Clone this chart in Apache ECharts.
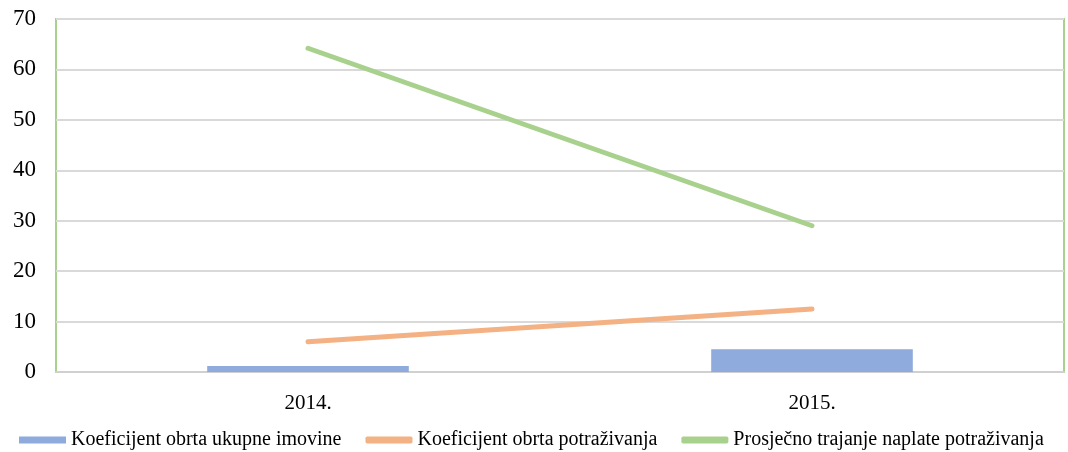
<!DOCTYPE html>
<html>
<head>
<meta charset="utf-8">
<script src="https://cdn.jsdelivr.net/npm/echarts@6/dist/echarts.min.js"></script>
<style>
  html, body { margin: 0; padding: 0; background: #fff; }
  #chart { width: 1068px; height: 452px; }
</style>
</head>
<body>
<div id="chart"></div>
<script>
const categories = ['2014.', '2015.'];
const ukupneImovine = [1.2, 4.5];
const potrazivanja = [6.0, 12.5];
const trajanjeNaplate = [64.2, 29.0];

const chart = echarts.init(document.getElementById('chart'));
const font = '"Liberation Serif", "Times New Roman", serif';

chart.setOption({
  animation: false,
  textStyle: { fontFamily: font },
  grid: {
    left: 56,
    right: 4,
    top: 19,
    bottom: 80,
    show: true,
    borderColor: '#A9D18E',
    borderWidth: 2,
    containLabel: false
  },
  legend: {
    top: 430,
    left: 19,
    padding: 0,
    itemGap: 24,
    itemWidth: 47,
    itemHeight: 7,
    textStyle: { fontFamily: font, fontSize: 20, color: '#000' },
    data: [
      { name: 'Koeficijent obrta ukupne imovine', icon: 'rect' },
      { name: 'Koeficijent obrta potraživanja', icon: 'roundRect' },
      { name: 'Prosječno trajanje naplate potraživanja', icon: 'roundRect' }
    ]
  },
  xAxis: {
    type: 'category',
    data: categories,
    axisLine: { lineStyle: { color: '#D0D0D0', width: 2 } },
    axisTick: { show: false },
    axisLabel: { fontSize: 21, color: '#000', margin: 21, fontFamily: font }
  },
  yAxis: {
    type: 'value',
    min: 0,
    max: 70,
    interval: 10,
    axisLine: { show: false },
    axisTick: { show: false },
    axisLabel: { fontSize: 23, color: '#000', margin: 20, fontFamily: font },
    splitLine: { lineStyle: { color: '#D9D9D9', width: 2 } }
  },
  series: [
    {
      name: 'Koeficijent obrta ukupne imovine',
      type: 'bar',
      data: ukupneImovine,
      barWidth: '40%',
      itemStyle: { color: '#8FAADC' }
    },
    {
      name: 'Koeficijent obrta potraživanja',
      type: 'line',
      data: potrazivanja,
      symbol: 'none',
      lineStyle: { color: '#F4B183', width: 5, cap: 'round' },
      itemStyle: { color: '#F4B183' }
    },
    {
      name: 'Prosječno trajanje naplate potraživanja',
      type: 'line',
      data: trajanjeNaplate,
      symbol: 'none',
      lineStyle: { color: '#A9D18E', width: 5, cap: 'round' },
      itemStyle: { color: '#A9D18E' }
    }
  ]
});
</script>
</body>
</html>
